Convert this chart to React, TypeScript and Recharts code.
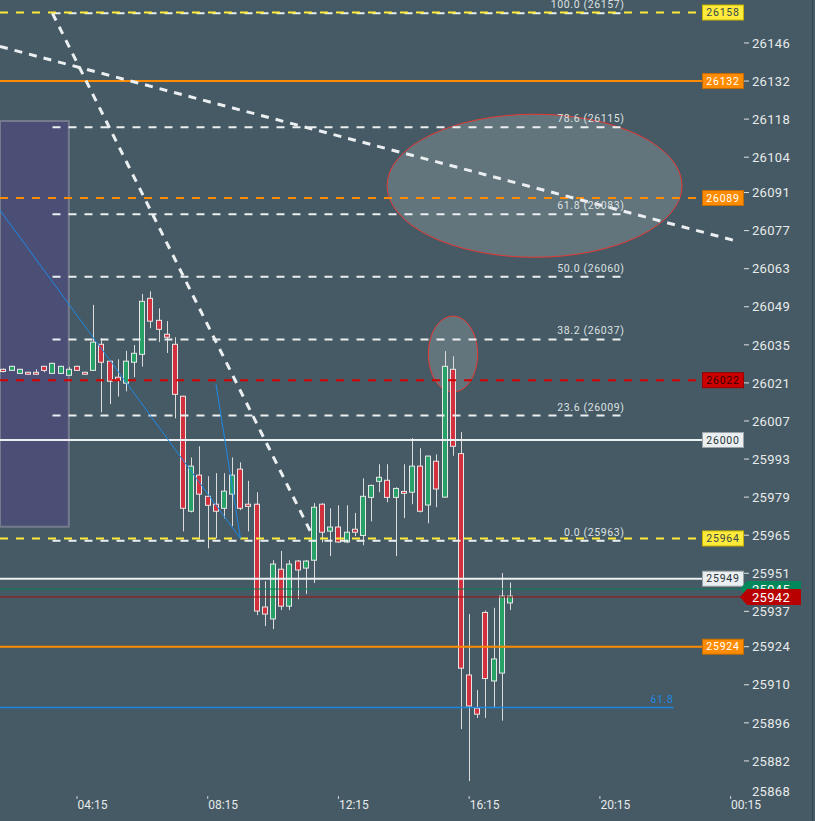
import React from 'react';
import { ComposedChart, Bar, XAxis, YAxis, ReferenceLine, ReferenceArea, ReferenceDot } from 'recharts';

const W = 815;
const H = 821;
const BG = '#455a64';
const GREEN = '#26a269';
const RED = '#d3303d';
const FONT = 'Roboto, "Noto Sans", sans-serif';

// 15-minute bars; bar index 0 = 04:15, first visible bar = 02:00
const FIRST_BAR = -9;
const opens = [
  26026.0, 26025.6, 26024.5, 26024.9, 26024.9, 26027.1, 26024.5, 26024.5, 26023.8,
  26027.1, 26024.9, 26025.6, 26035.2, 26029.0, 26023.1, 26020.9, 26028.6, 26031.5,
  26052.1, 26044.0, 26038.9, 26035.2, 26016.1, 25973.8, 25987.1, 25979.3, 25976.4,
  25974.9, 25980.1, 25989.3, 25976.4, 25976.4, 25938.6, 25934.2, 25952.5, 25938.9,
  25955.5, 25952.9, 25955.8, 25976.4, 25966.5, 25968.0, 25962.5, 25967.2, 25964.9,
  25978.9, 25984.8, 25985.2, 25978.9, 25981.1, 25980.8, 25990.4, 25976.1, 25992.2,
  25979.0, 26026.0, 25995.0, 25913.6, 25901.4, 25936.6, 25911.4, 25914.3, 25940.1,
];
const highs = [
  26026.3, 26027.3, 26026.2, 26025.1, 26026.0, 26027.3, 26028.4, 26027.3, 26026.8,
  26027.3, 26025.1, 26049.7, 26037.4, 26029.2, 26029.7, 26032.8, 26034.9, 26053.7,
  26054.7, 26048.4, 26043.7, 26037.8, 26016.3, 25993.6, 25997.7, 25986.7, 25987.8,
  25987.8, 25993.6, 25991.8, 25985.0, 25980.8, 25948.1, 25955.8, 25959.2, 25955.8,
  25955.9, 25955.9, 25976.8, 25976.8, 25974.9, 25976.0, 25976.0, 25973.2, 25985.9,
  25983.6, 25991.1, 25991.1, 25982.6, 25991.1, 26000.7, 25997.0, 25994.2, 25994.7,
  26032.7, 26030.8, 26002.9, 25936.0, 25908.1, 25937.3, 25938.3, 25951.1, 25947.6,
];
const lows = [
  26024.9, 26025.4, 26024.3, 26024.0, 26024.0, 26024.9, 26024.3, 26024.3, 26023.6,
  26025.4, 26024.0, 26025.4, 26010.2, 26013.2, 26016.0, 26017.9, 26023.1, 26027.0,
  26041.1, 26036.0, 26032.0, 26008.0, 25966.4, 25973.4, 25963.9, 25960.2, 25963.9,
  25971.2, 25968.3, 25974.2, 25966.4, 25935.6, 25931.6, 25930.5, 25937.5, 25937.5,
  25941.5, 25943.4, 25947.4, 25962.4, 25957.3, 25962.2, 25962.1, 25964.7, 25961.3,
  25970.1, 25980.8, 25977.1, 25957.3, 25971.3, 25976.4, 25973.4, 25969.4, 25975.3,
  25978.8, 25994.2, 25893.7, 25874.6, 25897.8, 25897.8, 25901.5, 25896.8, 25937.5,
];
const closes = [
  26025.2, 26027.1, 26026.0, 26024.2, 26024.2, 26025.6, 26028.2, 26027.1, 26026.0,
  26025.6, 26024.2, 26036.0, 26028.6, 26021.6, 26022.0, 26029.0, 26031.9, 26051.0,
  26043.7, 26040.7, 26037.8, 26016.8, 25974.9, 25990.4, 25980.1, 25976.0, 25973.8,
  25981.2, 25987.1, 25974.9, 25975.6, 25937.1, 25936.0, 25954.4, 25938.9, 25954.4,
  25952.2, 25955.5, 25975.3, 25966.1, 25968.0, 25962.5, 25966.1, 25966.1, 25979.3,
  25983.3, 25986.3, 25978.9, 25982.2, 25980.4, 25990.4, 25973.8, 25994.1, 25982.0,
  26027.1, 25997.7, 25916.1, 25902.2, 25899.2, 25912.3, 25919.5, 25942.6, 25942.6,
];

const timeTicks = [0, 16, 32, 48, 64, 80];
const timeLabels = ['04:15', '08:15', '12:15', '16:15', '20:15', '00:15'];

const priceTicks = [
  26146, 26132, 26118, 26104, 26091, 26077, 26063, 26049, 26035, 26021, 26007,
  25993, 25979, 25965, 25951, 25937, 25924, 25910, 25896, 25882, 25868,
];

const PRICE_MIN = 25868;
const PRICE_MAX = 26161.8;
const VIEW_START = -9.425;
const VIEW_END = 81.76;

// horizontal levels with price badges
const levelPrices = [26157.2, 26132, 26089, 26022, 26000, 25963.8, 25949, 25924];
const levelTags = ['26158', '26132', '26089', '26022', '26000', '25964', '25949', '25924'];
const levelKinds = ['yellow', 'orange', 'orangeDash', 'redDash', 'white', 'yellow', 'white', 'orange'];
const LEVEL_END = 76.5;

// fibonacci retracement
const fibPrices = [26156.9, 26115, 26083, 26060, 26037, 26009, 25963];
const fibNames = ['100.0 (26157)', '78.6 (26115)', '61.8 (26083)', '50.0 (26060)', '38.2 (26037)', '23.6 (26009)', '0.0 (25963)'];
const FIB_START = -3;
const FIB_END = 67;

// blue level
const blueLevel = 25901.6;
const blueLevelEnd = 73;
const blueLevelName = '61.8';

// drawn lines
const trendA = [{ x: -3, y: 26156.9 }, { x: 28.8, y: 25965 }];
const trendB = [{ x: VIEW_START, y: 26144.7 }, { x: 80.3, y: 26073.5 }];
const bluePath1 = [{ x: VIEW_START, y: 26084.5 }, { x: 20, y: 25963.8 }];
const bluePath2 = [{ x: 17, y: 26020.8 }, { x: 20, y: 25963.8 }];

// zones
const zone = { x1: VIEW_START, x2: -1, y1: 25968.1, y2: 26117.3 };
const ellipses = [
  { cx: 56.0, cy: 26093.5, rx: 18.05, ry: 26.3 },
  { cx: 46.02, cy: 26031.6, rx: 3.02, ry: 14.0 },
];

// current prices
const askPrice = 25945.2;
const askTag = '25945';
const lastPrice = 25942.3;
const lastTag = '25942';

const kindStyle: Record<string, any> = {
  yellow: { stroke: '#ffeb3b', dash: '8 8', bg: '#ffeb3b', border: '#c9b400', text: '#37474f' },
  orange: { stroke: '#ff8c00', dash: undefined, bg: '#ff8c00', border: '#c46c00', text: '#ffffff' },
  orangeDash: { stroke: '#ff8c00', dash: '8 8', bg: '#ff8c00', border: '#c46c00', text: '#ffffff' },
  redDash: { stroke: '#d50000', dash: '8 8', bg: '#cc0000', border: '#990000', text: '#3a0000' },
  white: { stroke: '#eceff1', dash: undefined, bg: '#eceff1', border: '#9aa5ab', text: '#263238' },
};

const candles = opens.map((o, k) => ({
  i: FIRST_BAR + k,
  open: o,
  high: highs[k],
  low: lows[k],
  close: closes[k],
}));

const Candle = (props: any) => {
  const { x, y, width, height, payload } = props;
  if (!payload || height == null || isNaN(y)) return null;
  const { open, close, high, low } = payload;
  const k = high > low ? height / (high - low) : 0;
  const py = (v: number) => y + (high - v) * k;
  const cx = Math.round(x + width / 2) + 0.5;
  const up = close >= open;
  const top = py(Math.max(open, close));
  const bot = py(Math.min(open, close));
  return (
    <g>
      <line x1={cx} x2={cx} y1={y} y2={y + height} stroke="#dcdcdc" strokeWidth={1} />
      <rect x={cx - 3} y={top} width={5} height={Math.max(bot - top, 1)} fill={up ? GREEN : RED} stroke="#e6e6e6" strokeWidth={1} />
    </g>
  );
};

const PriceTick = (props: any) => {
  const { x, y, payload } = props;
  const v = payload.value;
  const bottom = v === PRICE_MIN;
  return (
    <g>
      {!bottom && <line x1={x - 1} x2={x + 4} y1={y} y2={y} stroke="#e0e0e0" strokeWidth={1} />}
      <text x={x + 7} y={bottom ? y - 8 : y} dy="0.36em" fill="#e8eaeb" fontSize={13} fontFamily={FONT} letterSpacing={0.3}>
        {String(v)}
      </text>
    </g>
  );
};

const TimeTick = (props: any) => {
  const { x, y, payload } = props;
  const idx = timeTicks.indexOf(payload.value);
  return (
    <g>
      <line x1={x} x2={x} y1={y - 3} y2={y} stroke="#d0d0d0" strokeWidth={1} />
      <text x={x + 0.5} y={y + 10} textAnchor="start" fill="#e8eaeb" fontSize={12} fontFamily={FONT}>
        {idx >= 0 ? timeLabels[idx] : ''}
      </text>
    </g>
  );
};

const ellipseShape = (props: any) => {
  const { x, y, width, height } = props;
  return (
    <ellipse cx={x + width / 2} cy={y + height / 2} rx={Math.abs(width / 2)} ry={Math.abs(height / 2)}
      fill="rgba(255,255,255,0.16)" stroke="#e53935" strokeWidth={1} />
  );
};

const badgeShape = (tag: string, kind: string) => (props: any) => {
  const { cx, cy } = props;
  const s = kindStyle[kind];
  return (
    <g>
      <rect x={cx + 0.5} y={cy - 7.5} width={41} height={15} fill={s.bg} stroke={s.border} strokeWidth={1} />
      <text x={cx + 21} y={cy} dy="0.36em" textAnchor="middle" fill={s.text} fontSize={10.5} fontFamily={FONT} letterSpacing={0.8}>
        {tag}
      </text>
    </g>
  );
};

const fibLabelShape = (name: string, color: string) => (props: any) => {
  const { cx, cy } = props;
  return (
    <text x={cx} y={cy - 5} textAnchor="end" fill={color} fontSize={10.5} fontFamily={FONT} letterSpacing={0.6}>
      {name}
    </text>
  );
};

const priceTagShape = (tag: string, color: string) => (props: any) => {
  const { cx, cy } = props;
  const l = cx - 5;
  return (
    <g>
      <polygon points={`${l},${cy} ${l + 7},${cy - 8} ${l + 61},${cy - 8} ${l + 61},${cy + 8} ${l + 7},${cy + 8}`} fill={color} />
      <text x={l + 12} y={cy} dy="0.36em" fill="#ffffff" fontSize={13} fontFamily={FONT} letterSpacing={0.3}>
        {tag}
      </text>
    </g>
  );
};

export default function App() {
  return (
    <div style={{ position: 'absolute', left: 0, top: 0, width: W, height: H, background: BG, fontFamily: FONT, overflow: 'hidden' }}>
      <ComposedChart width={W} height={H} data={candles} margin={{ top: 0, right: 0, bottom: 0, left: 0 }}>
        <XAxis dataKey="i" type="number" domain={[VIEW_START, VIEW_END]} allowDataOverflow ticks={timeTicks}
          interval={0} tick={TimeTick} axisLine={false} tickLine={false} tickSize={0} tickMargin={0} height={22} />
        <YAxis orientation="right" type="number" domain={[PRICE_MIN, PRICE_MAX]} allowDataOverflow ticks={priceTicks}
          interval={0} tick={PriceTick} axisLine={false} tickLine={false} tickSize={0} tickMargin={0} width={70} />

        <Bar dataKey={(d: any) => [d.low, d.high]} shape={Candle} barSize={6} isAnimationActive={false} />

        <ReferenceArea x1={zone.x1} x2={zone.x2} y1={zone.y1} y2={zone.y2} fill="rgba(84,65,142,0.42)" fillOpacity={1}
          stroke="#737b8c" strokeWidth={2} ifOverflow="visible" />

        {fibPrices.map((p, k) => (
          <ReferenceLine key={'fib' + k} segment={[{ x: FIB_START, y: p }, { x: FIB_END, y: p }]} stroke="#eceff1"
            strokeWidth={2} strokeDasharray="8 8" ifOverflow="visible" />
        ))}

        {levelPrices.map((p, k) => {
          const s = kindStyle[levelKinds[k]];
          return (
            <ReferenceLine key={'lvl' + k} segment={[{ x: VIEW_START, y: p }, { x: LEVEL_END, y: p }]} stroke={s.stroke}
              strokeWidth={2} strokeDasharray={s.dash} ifOverflow="visible" />
          );
        })}

        <ReferenceLine segment={[{ x: VIEW_START, y: blueLevel }, { x: blueLevelEnd, y: blueLevel }]} stroke="#1e88e5" strokeWidth={1.5} ifOverflow="visible" />
        <ReferenceLine segment={bluePath1} stroke="#1e88e5" strokeWidth={1} ifOverflow="visible" />
        <ReferenceLine segment={bluePath2} stroke="#1e88e5" strokeWidth={1} ifOverflow="visible" />

        <ReferenceLine segment={[{ x: VIEW_START, y: askPrice }, { x: VIEW_END, y: askPrice }]} stroke="#0a7d55" strokeWidth={1} ifOverflow="visible" />
        <ReferenceLine segment={[{ x: VIEW_START, y: lastPrice }, { x: VIEW_END, y: lastPrice }]} stroke="#a01010" strokeWidth={1} ifOverflow="visible" />

        <ReferenceLine segment={trendA} stroke="#eceff1" strokeWidth={3} strokeDasharray="8 7" ifOverflow="visible" />
        <ReferenceLine segment={trendB} stroke="#eceff1" strokeWidth={3} strokeDasharray="8 7" ifOverflow="visible" />

        {ellipses.map((e, k) => (
          <ReferenceArea key={'el' + k} x1={e.cx - e.rx} x2={e.cx + e.rx} y1={e.cy - e.ry} y2={e.cy + e.ry}
            shape={ellipseShape} ifOverflow="visible" />
        ))}

        {fibPrices.map((p, k) => (
          <ReferenceDot key={'fibl' + k} x={FIB_END} y={p} r={0} ifOverflow="visible" shape={fibLabelShape(fibNames[k], '#dde1e3')} />
        ))}
        <ReferenceDot x={blueLevelEnd} y={blueLevel} r={0} ifOverflow="visible" shape={fibLabelShape(blueLevelName, '#1e88e5')} />

        {levelPrices.map((p, k) => (
          <ReferenceDot key={'badge' + k} x={LEVEL_END} y={p} r={0} ifOverflow="visible" shape={badgeShape(levelTags[k], levelKinds[k])} />
        ))}

        <ReferenceDot x={VIEW_END} y={askPrice} r={0} ifOverflow="visible" shape={priceTagShape(askTag, '#00875a')} />
        <ReferenceDot x={VIEW_END} y={lastPrice} r={0} ifOverflow="visible" shape={priceTagShape(lastTag, '#b80000')} />
      </ComposedChart>
      <div style={{ position: 'absolute', left: 812, top: 0, width: 1, height: H, background: '#37474f' }} />
    </div>
  );
}
